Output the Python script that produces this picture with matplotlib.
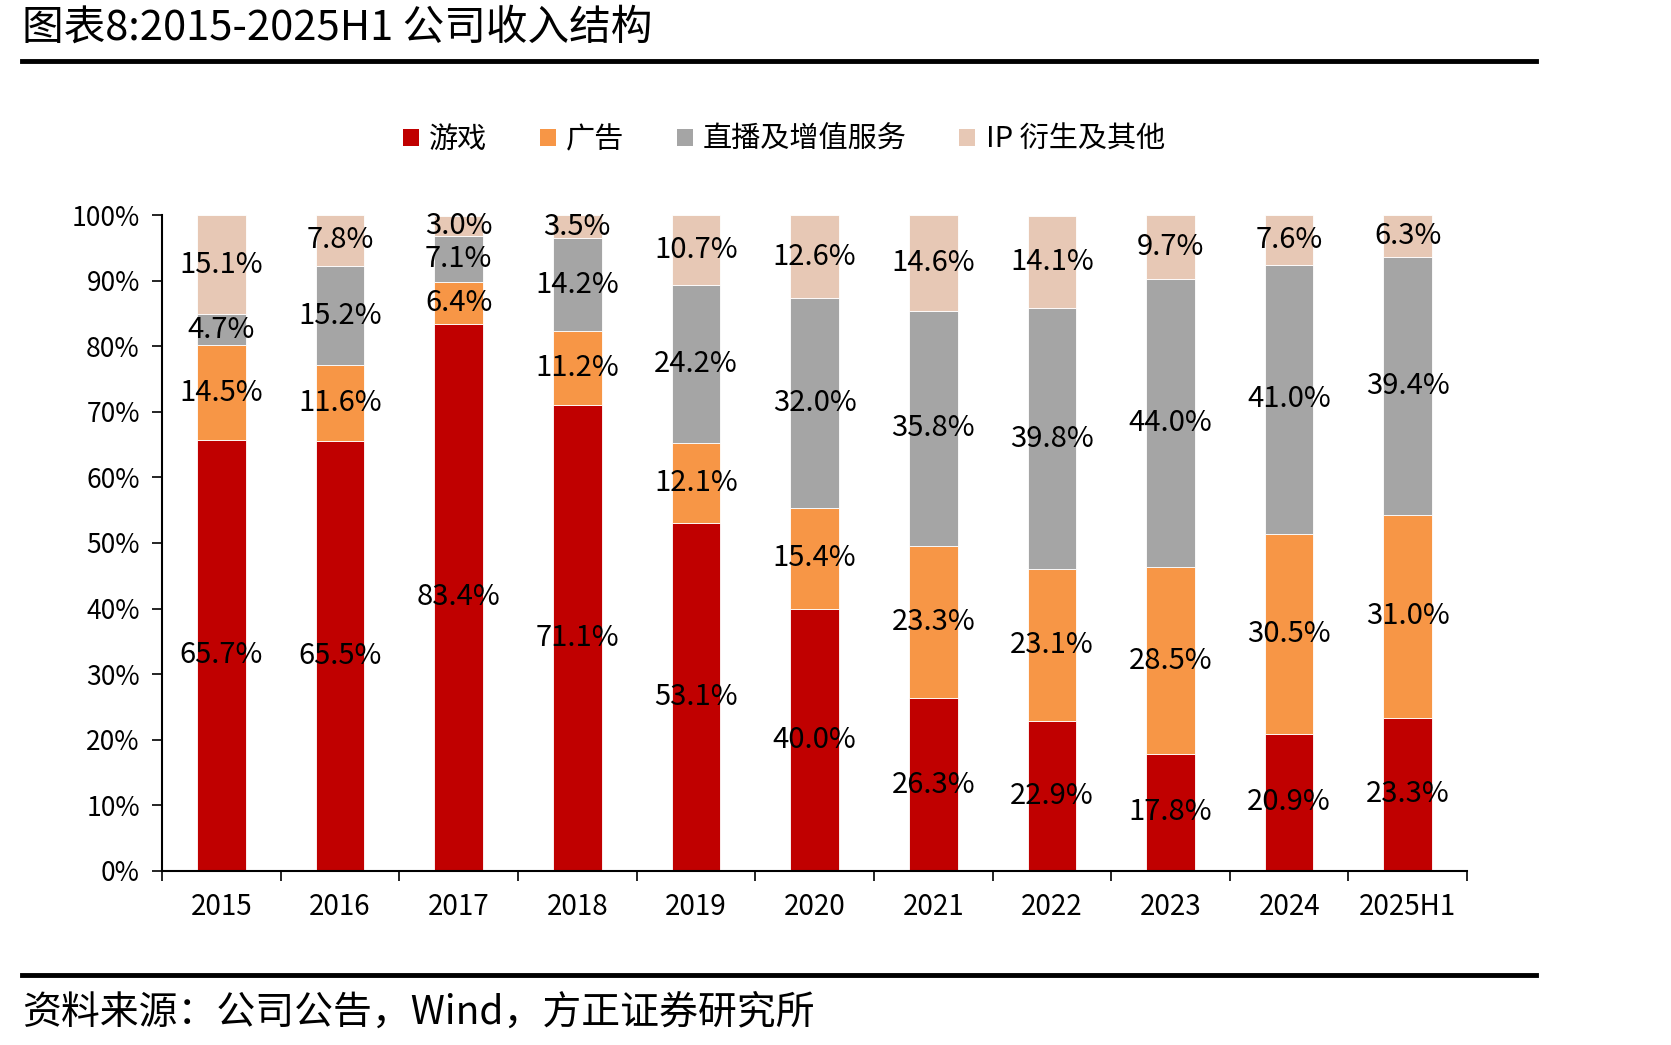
import numpy as np
import matplotlib.pyplot as plt
from matplotlib.patches import Patch

plt.rcParams['font.family'] = ['Noto Sans CJK SC', 'DejaVu Sans']

# data (%)
years = ['2015', '2016', '2017', '2018', '2019', '2020', '2021', '2022', '2023', '2024', '2025H1']
series_names = ['游戏', '广告', '直播及增值服务', 'IP 衍生及其他']
game = [65.7, 65.5, 83.4, 71.1, 53.1, 40.0, 26.3, 22.9, 17.8, 20.9, 23.3]
ads = [14.5, 11.6, 6.4, 11.2, 12.1, 15.4, 23.3, 23.1, 28.5, 30.5, 31.0]
live = [4.7, 15.2, 7.1, 14.2, 24.2, 32.0, 35.8, 39.8, 44.0, 41.0, 39.4]
ip = [15.1, 7.8, 3.0, 3.5, 10.7, 12.6, 14.6, 14.1, 9.7, 7.6, 6.3]
colors = ['#C00000', '#F79646', '#A5A5A5', '#E7C8B5']

fig = plt.figure(figsize=(16.71, 10.45), dpi=100)
ax = fig.add_axes([0.097, 0.1668, 0.781, 0.6272])

x = np.arange(len(years))
bottom = np.zeros(len(years))
for vals, col in zip([game, ads, live, ip], colors):
    vals = np.array(vals)
    ax.bar(x, vals, width=0.41, bottom=bottom, color=col, edgecolor='white', linewidth=0.6)
    for xi, b, v in zip(x, bottom, vals):
        ax.text(xi, b + v / 2, f'{v:.1f}%', ha='center', va='center', fontsize=21, color='black')
    bottom += vals

ax.set_xlim(-0.5, len(years) - 0.5)
ax.set_ylim(0, 100)
ax.set_yticks(np.arange(0, 101, 10))
ax.set_yticklabels([f'{v}%' for v in range(0, 101, 10)], fontsize=19)
ax.set_xticks(x)
ax.set_xticklabels(years, fontsize=20)
ax.set_xticks(np.arange(-0.5, len(years), 1), minor=True)
ax.tick_params(axis='x', which='major', length=0, pad=15)
ax.tick_params(axis='x', which='minor', length=7, width=1.2, direction='out')
ax.tick_params(axis='y', length=7, width=1.2, direction='out', pad=9)
for s in ['top', 'right']:
    ax.spines[s].set_visible(False)
for s in ['left', 'bottom']:
    ax.spines[s].set_linewidth(1.5)

handles = [Patch(facecolor=c, edgecolor='none') for c in colors]
fig.legend(handles, series_names, loc='center', bbox_to_anchor=(0.469, 0.866), ncol=4,
           frameon=False, fontsize=21, handlelength=0.55, handleheight=0.55,
           handletextpad=0.35, columnspacing=1.8)

# title and source
fig.text(0.013, 0.973, '图表8:2015-2025H1 公司收入结构', fontsize=30, ha='left', va='center')
fig.add_artist(plt.Line2D([0.013, 0.919], [0.942, 0.942], color='black', linewidth=3.5))
fig.add_artist(plt.Line2D([0.013, 0.919], [0.067, 0.067], color='black', linewidth=3.5))
fig.text(0.013, 0.031, '资料来源：公司公告，Wind，方正证券研究所', fontsize=28, ha='left', va='center', style='italic')

fig.savefig('out.png', dpi=100)
